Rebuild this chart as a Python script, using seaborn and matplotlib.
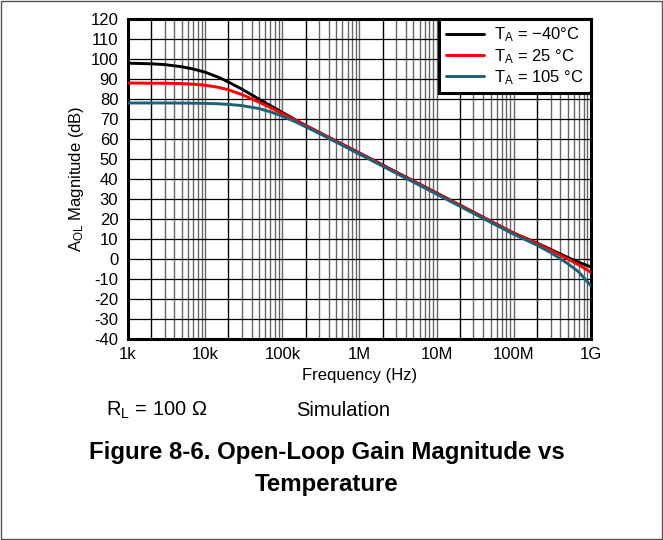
import numpy as np
import pandas as pd
import matplotlib
matplotlib.use("Agg")
import matplotlib.pyplot as plt
from matplotlib.patches import Rectangle
import seaborn as sns

# ---- data ----
freq_hz = [1e3, 2e3, 3e3, 5e3, 7e3, 1e4, 1.5e4, 2e4, 3e4, 5e4, 7e4, 1e5, 1.5e5,
           2e5, 3e5, 5e5, 1e6, 1e7, 1e8, 2e8, 3e8, 5e8, 7e8, 1e9]
gain_m40 = [97.9, 97.6, 97.2, 96.1, 95.0, 93.4, 90.8, 88.5, 84.9, 79.9, 76.7, 73.3, 69.5,
            66.8, 63.3, 58.9, 53.0, 33.0, 12.9, 8.0, 4.8, 0.8, -1.7, -4.0]
gain_25 = [88.0, 87.9, 87.9, 87.7, 87.4, 86.9, 85.8, 84.6, 82.2, 78.4, 75.7, 72.7, 69.3,
           66.8, 63.3, 58.9, 52.9, 32.9, 12.9, 7.8, 4.4, 0.0, -3.0, -6.7]
gain_105 = [78.0, 78.0, 78.0, 77.95, 77.9, 77.8, 77.6, 77.3, 76.7, 75.2, 73.6, 71.4, 68.5,
            66.1, 62.8, 58.4, 52.4, 32.4, 12.3, 6.9, 3.2, -2.3, -6.6, -13.5]
series_labels = [r"T$_{\rm A}$ = −40°C", r"T$_{\rm A}$ = 25 °C", r"T$_{\rm A}$ = 105 °C"]
series_colors = ["#000000", "#FF0000", "#1B6276"]
x_tick_vals = [1e3, 1e4, 1e5, 1e6, 1e7, 1e8, 1e9]
x_tick_labels = ["1k", "10k", "100k", "1M", "10M", "100M", "1G"]
y_ticks = list(range(-40, 121, 10))

df = pd.concat([
    pd.DataFrame({"freq": freq_hz, "gain": g, "temp": lab})
    for g, lab in zip([gain_m40, gain_25, gain_105], series_labels)
])

sns.set_style("white")
plt.rcParams["font.family"] = ["Liberation Sans", "DejaVu Sans"]
plt.rcParams["text.color"] = "black"
plt.rcParams["axes.labelcolor"] = "black"
plt.rcParams["mathtext.fontset"] = "custom"
plt.rcParams["mathtext.rm"] = "Liberation Sans"
plt.rcParams["mathtext.it"] = "Liberation Sans:italic"
plt.rcParams["mathtext.bf"] = "Liberation Sans:bold"

fig = plt.figure(figsize=(6.63, 5.40), dpi=100)
ax = fig.add_axes([128 / 663, 1 - 339 / 540, 463 / 663, 320 / 540])

sns.lineplot(data=df, x="freq", y="gain", hue="temp", palette=dict(zip(series_labels, series_colors)),
             hue_order=series_labels, linewidth=2.1, ax=ax, legend=False, zorder=5)

ax.set_xscale("log")
ax.set_xlim(1e3, 1e9)
ax.set_ylim(-40, 120)
ax.set_xticks(x_tick_vals)
ax.set_xticklabels(x_tick_labels)
minor = [m * 10 ** e for e in range(3, 9) for m in range(2, 10)]
ax.set_xticks(minor, minor=True)
ax.set_yticks(y_ticks)
ax.set_yticklabels([str(v) for v in y_ticks])

ax.tick_params(axis="both", which="both", length=0, labelsize=12, colors="black")
ax.tick_params(axis="x", pad=6)
ax.tick_params(axis="y", pad=7)

# grid
ax.grid(True, which="major", axis="y", color="black", linewidth=0.9)
ax.grid(True, which="both", axis="x", color="#666666", linewidth=1.0)
for loc, t in zip(minor, ax.xaxis.get_minor_ticks()):
    if abs(loc / 10 ** np.floor(np.log10(loc)) - 2) < 1e-6:
        t.gridline.set_color("black")
ax.set_axisbelow(True)

for s in ax.spines.values():
    s.set_visible(True)
    s.set_color("black")
    s.set_linewidth(2.2)

ax.set_xlabel("Frequency (Hz)", fontsize=12, labelpad=4)
ax.set_ylabel(r"A$_{\rm OL}$ Magnitude (dB)", fontsize=12, labelpad=3)

handles = [plt.Line2D([], [], color=c, lw=2.1) for c in series_colors]
leg = ax.legend(handles, series_labels, loc="upper right", fontsize=12, frameon=True,
                fancybox=False, framealpha=1, edgecolor="black", borderaxespad=0,
                handlelength=2.3, handletextpad=0.6, labelspacing=0.15, borderpad=0.4)
leg.get_frame().set_linewidth(2.2)
leg.set_zorder(10)

fig.text(106 / 663, 1 - 410 / 540, r"R$_{\rm L}$ = 100 Ω", fontsize=14.5, ha="left", va="center")
fig.text(296 / 663, 1 - 410 / 540, "Simulation", fontsize=14.5, ha="left", va="center")
fig.text(327 / 663, 1 - 452 / 540, "Figure 8-6. Open-Loop Gain Magnitude vs",
         fontsize=17.3, fontweight="bold", ha="center", va="center")
fig.text(327 / 663, 1 - 484 / 540, "Temperature",
         fontsize=17.3, fontweight="bold", ha="center", va="center")

fig.patches.append(Rectangle((0.002, 0.002), 0.996, 0.996, transform=fig.transFigure,
                             fill=False, edgecolor="#555555", linewidth=1.0))

fig.savefig("out.png", dpi=100)
